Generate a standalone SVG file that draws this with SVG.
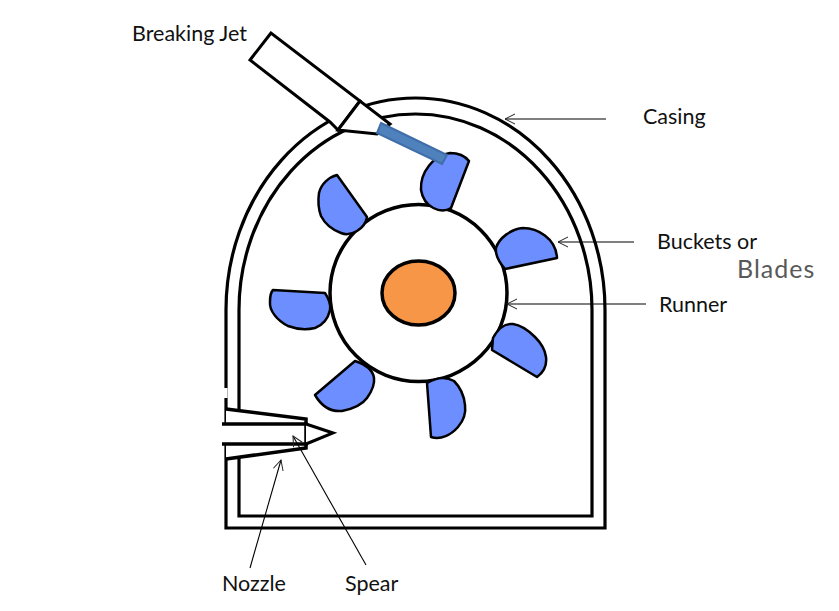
<svg xmlns="http://www.w3.org/2000/svg" width="839" height="611" viewBox="0 0 839 611">
<style>
.wall{fill:none;stroke:#000;stroke-width:3.200}
.solid{fill:#fff;stroke:#000;stroke-width:3;stroke-linejoin:miter}
.bucket{fill:#6d8efe;stroke:#000;stroke-width:2.500;stroke-linejoin:round}
.lead{fill:none;stroke:#000;stroke-width:1.100;marker-end:url(#open)}
.lbl{font-family:"Lato","Open Sans",sans-serif;font-size:21.500px;fill:#111}
</style>
<defs>
<marker id="open" markerUnits="userSpaceOnUse" markerWidth="14" markerHeight="14" refX="13" refY="7" orient="auto" viewBox="0 0 14 14">
<path d="M3,2 L13,7 L3,12" fill="none" stroke="#222" stroke-width="1"/>
</marker>
</defs>
<rect width="839" height="611" fill="#fff"/>
<g id="casing">
<path class="wall" d="M226,424 L226,310 A189.500,212 0 0 1 605,310 L605,528 L226,528 L226,444"/>
<path class="wall" d="M239,410 L239,310 A176.500,196 0 0 1 592,310 L592,516 L239,516 L239,458"/>
<rect x="224" y="388" width="3.500" height="10" fill="#fff"/>
</g>
<g id="nozzle">
<path class="wall" style="fill:#fff;stroke-width:3.500" d="M226,409 L306,419 L306,448 L226,459"/>
</g>
<g id="spear">
<path d="M220,424 H306 V444 H220 Z" fill="#fff" stroke="none"/>
<path class="wall" style="stroke-width:3.500" d="M222,424 H306 V444 H222"/>
<path class="solid" d="M306,424 L333,433 L306,444"/>
</g>
<g id="runner">
<circle cx="418.500" cy="293" r="88.500" fill="#fff" stroke="#000" stroke-width="3.500"/>
<ellipse cx="418.500" cy="293" rx="36.500" ry="32" fill="#f79646" stroke="#000" stroke-width="3.500"/>
</g>
<g id="buckets">
<path class="bucket" d="M469,161 L451,208 C441,214 424,208 421,190 C420,172 434,155 450,153 C458,153 465,156 469,161 Z"/>
<path class="bucket" d="M557,258 L505,269 C499,262 495,255 496,248 C499,238 511,229 523,228 C537,228 556,238 557,258 Z"/>
<path class="bucket" d="M492,350 L537,377 C544,372 547,365 546,357 C545,349 540,342 535,337 C528,330 520,325 513,324 C504,323 497,330 493,338 Z"/>
<path class="bucket" d="M427,383 L431,437 C441,440 451,435 458,427 C464,420 466,412 465,405 C464,395 460,387 454,381 C447,377 437,377 427,383 Z"/>
<path class="bucket" d="M355,361 L315,395 C322,407 331,412 342,411 C352,409 362,405 367,398 C372,391 375,385 374,378 C373,370 367,365 355,361 Z"/>
<path class="bucket" d="M273,290 L325,293 C329,299 331,305 330,310 C328,319 323,325 315,328 C306,330 296,329 288,326 C278,321 269,311 270,302 C270,296 271,292 273,290 Z"/>
<path class="bucket" d="M337,175 L367,217 C366,223 362,228 357,231 C352,234 346,235 341,233 C333,230 325,224 321,216 C318,208 318,200 319,193 C321,184 329,177 337,175 Z"/>
</g>
<g id="breaking-jet">
<path class="solid" d="M271,33 L250,60 L330,122 L338,130 L360,101 Z"/>
<path class="solid" d="M360,101 L338,130 L377,134 L390,124 Z"/>
<path d="M381,123 L447,155 L442,164 L377,133 Z" fill="#4f81bd" stroke="#3f6ea8" stroke-width="2"/>
</g>
<g id="connectors">
<path class="lead" d="M606,119 L505,119"/>
<path class="lead" d="M634,242 L558,242"/>
<path class="lead" d="M646,304 L507,304"/>
<path class="lead" d="M250,568 L281,460"/>
<path class="lead" d="M366,565 L293,436"/>
</g>
<g id="labels">
<text class="lbl" x="132" y="41">Breaking Jet</text>
<text class="lbl" x="643" y="124">Casing</text>
<text class="lbl" x="657" y="249">Buckets or</text>
<text x="737" y="278" style="font-family:'Lato',sans-serif;font-size:25px;fill:#595959;letter-spacing:1px">Blades</text>
<text class="lbl" x="659" y="312">Runner</text>
<text class="lbl" x="222" y="591">Nozzle</text>
<text class="lbl" x="345" y="591">Spear</text>
</g>
</svg>
